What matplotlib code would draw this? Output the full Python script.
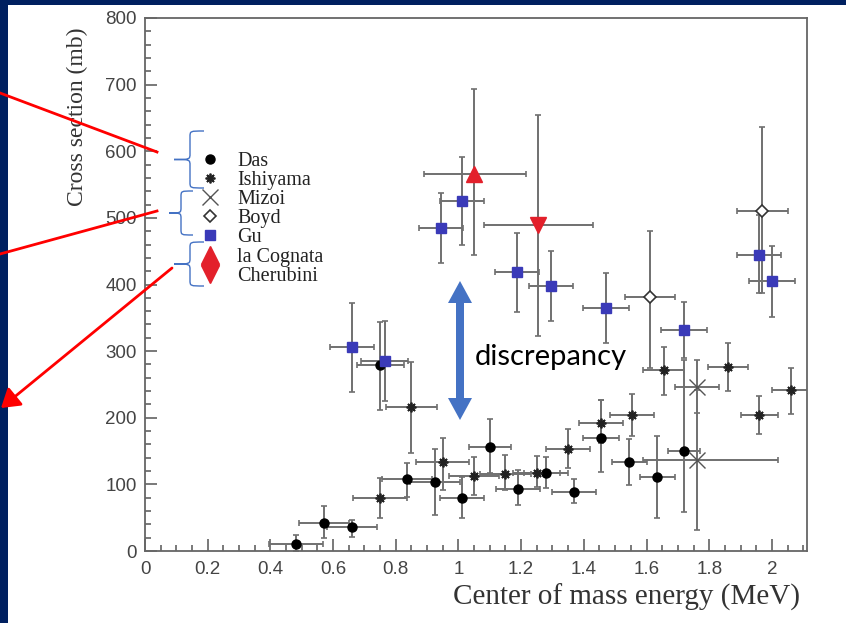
import matplotlib
matplotlib.use('Agg')
import matplotlib.pyplot as plt
import numpy as np
from matplotlib.lines import Line2D
from matplotlib.path import Path
from matplotlib.patches import PathPatch, Rectangle, Polygon, FancyArrowPatch
from matplotlib.ticker import MultipleLocator, FixedLocator

# ---------------- data ----------------
das_e = [0.482, 0.571, 0.66, 0.75, 0.835, 0.925, 1.01, 1.10, 1.19, 1.28, 1.37, 1.455, 1.545, 1.635, 1.72]
das_s = [10, 42, 36, 279, 108, 103, 80, 156, 93, 117, 89, 169, 134, 111, 150]
das_ex = [0.086, 0.08, 0.08, 0.075, 0.08, 0.08, 0.07, 0.067, 0.07, 0.07, 0.07, 0.058, 0.055, 0.055, 0.05]
das_lo = [0, 19, 21, 211, 81, 54, 50, 117, 69, 94, 72, 118, 99, 49, 58]
das_hi = [24, 67, 47, 343, 132, 153, 111, 198, 121, 141, 108, 226, 168, 172, 286]

ish_e = [0.75, 0.85, 0.95, 1.05, 1.15, 1.25, 1.35, 1.455, 1.555, 1.655, 1.86, 1.96, 2.06]
ish_s = [80, 216, 133, 112, 115, 117, 153, 192, 204, 271, 276, 204, 241]
ish_ex = [0.085, 0.08, 0.085, 0.08, 0.08, 0.075, 0.07, 0.07, 0.07, 0.065, 0.065, 0.06, 0.06]
ish_lo = [50, 147, 92, 84, 91, 96, 124, 162, 173, 234, 240, 175, 205]
ish_hi = [110, 283, 170, 141, 144, 142, 183, 226, 235, 306, 312, 232, 274]

miz_e = [1.76, 1.76]
miz_s = [136, 246]
miz_xlo = [1.59, 1.69]
miz_xhi = [2.02, 1.83]
miz_lo = [31, 207]
miz_hi = [241, 286]

boyd_e = [1.61, 1.97]
boyd_s = [381, 511]
boyd_ex = [0.08, 0.08]
boyd_lo = [274, 387]
boyd_hi = [481, 636]

gu_e = [0.66, 0.765, 0.944, 1.01, 1.187, 1.295, 1.47, 1.72, 1.96, 2.0]
gu_s = [306, 285, 485, 525, 419, 397, 364, 332, 445, 405]
gu_ex = [0.07, 0.075, 0.07, 0.07, 0.07, 0.07, 0.073, 0.073, 0.07, 0.073]
gu_lo = [238, 225, 432, 459, 358, 345, 312, 289, 387, 351]
gu_hi = [372, 345, 537, 591, 478, 451, 418, 373, 504, 458]

lac_e = [1.05]
lac_s = [566]
lac_xlo = [0.89]
lac_xhi = [1.215]
lac_lo = [444]
lac_hi = [693]

che_e = [1.254]
che_s = [490]
che_xlo = [1.08]
che_xhi = [1.43]
che_lo = [322]
che_hi = [654]

x_ticks = [0, 0.2, 0.4, 0.6, 0.8, 1.0, 1.2, 1.4, 1.6, 1.8, 2.0]
x_tick_labels = ['0', '0.2', '0.4', '0.6', '0.8', '1', '1.2', '1.4', '1.6', '1.8', '2']
y_ticks = [0, 100, 200, 300, 400, 500, 600, 700, 800]
y_tick_labels = ['0', '100', '200', '300', '400', '500', '600', '700', '800']

legend_labels = ['Das', 'Ishiyama', 'Mizoi', 'Boyd', 'Gu', 'la Cognata', 'Cherubini']

# ---------------- figure ----------------
W, H = 846, 623
NAVY = '#002060'
BLUE_ANN = '#4472C4'
GU_COL = '#3a3ab8'
RED = '#e3202b'
ECOL = '#707070'

fig = plt.figure(figsize=(W / 100, H / 100), dpi=100, facecolor=NAVY)


def fp(x, y):
    return (x / W, 1 - y / H)


fig.patches.append(Rectangle((8 / W, 0), (W - 8) / W, (H - 5) / H, transform=fig.transFigure,
                             facecolor='white', edgecolor='none', zorder=-5))

ax = fig.add_axes([145 / W, 1 - 551 / H, (807 - 145) / W, (551 - 18) / H])
ax.set_zorder(1)
ax.patch.set_alpha(0)
ax.set_xlim(0, 2.112)
ax.set_ylim(0, 800)


def ebar(e, s, xl, xh, lo, hi):
    e = np.asarray(e, float); s = np.asarray(s, float)
    ax.errorbar(e, s, xerr=[np.asarray(xl, float), np.asarray(xh, float)],
                yerr=[s - np.asarray(lo, float), np.asarray(hi, float) - s],
                fmt='none', ecolor=ECOL, elinewidth=1.4, capsize=2, capthick=1.2, zorder=2)


ebar(das_e, das_s, das_ex, das_ex, das_lo, das_hi)
ebar(ish_e, ish_s, ish_ex, ish_ex, ish_lo, ish_hi)
ebar(miz_e, miz_s, np.subtract(miz_e, miz_xlo), np.subtract(miz_xhi, miz_e), miz_lo, miz_hi)
ebar(boyd_e, boyd_s, boyd_ex, boyd_ex, boyd_lo, boyd_hi)
ebar(gu_e, gu_s, gu_ex, gu_ex, gu_lo, gu_hi)
ebar(lac_e, lac_s, np.subtract(lac_e, lac_xlo), np.subtract(lac_xhi, lac_e), lac_lo, lac_hi)
ebar(che_e, che_s, np.subtract(che_e, che_xlo), np.subtract(che_xhi, che_e), che_lo, che_hi)

sty = {
    'Das': dict(marker='o', color='black', ms=6.5, mec='black'),
    'Ishiyama': dict(marker=(8, 2, 0), color='#222222', ms=7, mew=1.3),
    'Mizoi': dict(marker='x', color='#555555', ms=12, mew=1.0),
    'Boyd': dict(marker='D', color='white', ms=6.5, mec='#333333', mew=1.2),
    'Gu': dict(marker='s', color=GU_COL, ms=7, mec=GU_COL),
    'la Cognata': dict(marker='^', color=RED, ms=11, mec=RED),
    'Cherubini': dict(marker='v', color=RED, ms=11, mec=RED),
}
series = [('Das', das_e, das_s), ('Ishiyama', ish_e, ish_s), ('Mizoi', miz_e, miz_s),
          ('Boyd', boyd_e, boyd_s), ('Gu', gu_e, gu_s), ('la Cognata', lac_e, lac_s),
          ('Cherubini', che_e, che_s)]
for name, e, s in series:
    ax.plot(e, s, ls='none', zorder=3, **sty[name])

# axes styling
for sp in ax.spines.values():
    sp.set_color('#666666')
    sp.set_linewidth(1.3)
ax.xaxis.set_major_locator(FixedLocator(x_ticks))
ax.set_xticklabels(x_tick_labels)
ax.yaxis.set_major_locator(FixedLocator(y_ticks))
ax.set_yticklabels(y_tick_labels)
ax.xaxis.set_minor_locator(MultipleLocator(0.05))
ax.yaxis.set_minor_locator(MultipleLocator(20))
ax.tick_params(which='both', direction='in', top=False, right=False, color='#555555',
               labelcolor='#444444', width=1.1)
ax.tick_params(which='major', length=8.5, labelsize=13.5)
ax.tick_params(axis='x', which='major', pad=7)
ax.tick_params(axis='y', which='major', pad=6)
ax.tick_params(which='minor', length=4.3)
for lab in ax.get_xticklabels() + ax.get_yticklabels():
    lab.set_fontfamily('Liberation Sans')

fig.text(77 / W, 1 - 28 / H, 'Cross section (mb)', rotation=90, va='top', ha='center',
         fontfamily='Liberation Serif', fontsize=17, color='#333333')
fig.text(800 / W, 1 - 597 / H, 'Center of mass energy (MeV)', va='center', ha='right',
         fontfamily='Liberation Serif', fontsize=21, color='#333333')

# legend
handles = [Line2D([], [], ls='none', **sty[n]) for n in legend_labels]
handles[5] = Line2D([], [], ls='none', marker='^', color=RED, ms=13)
handles[6] = Line2D([], [], ls='none', marker='v', color=RED, ms=13)
leg = ax.legend(handles, legend_labels, loc='upper left', bbox_to_anchor=fp(201, 152),
                bbox_transform=fig.transFigure, frameon=False,
                prop={'family': 'Liberation Serif', 'size': 14.5}, handlelength=0.9,
                handletextpad=0.9, labelspacing=0.0, borderpad=0, borderaxespad=0)
for t in leg.get_texts():
    t.set_color('#222222')

# braces


def brace(xr, yt, yb, xm, xtip, r=6):
    ym = (yt + yb) / 2
    pts = [(xr, yt), (xm, yt), (xm, yt), (xm, yt + r),
           (xm, ym - r), (xm, ym), (xm, ym), (xtip, ym),
           (xm, ym), (xm, ym), (xm, ym + r),
           (xm, yb - r), (xm, yb), (xm, yb), (xr, yb)]
    codes = [Path.MOVETO, Path.CURVE4, Path.CURVE4, Path.CURVE4,
             Path.LINETO, Path.CURVE4, Path.CURVE4, Path.CURVE4,
             Path.CURVE4, Path.CURVE4, Path.CURVE4,
             Path.LINETO, Path.CURVE4, Path.CURVE4, Path.CURVE4]
    verts = [fp(x, y) for x, y in pts]
    fig.patches.append(PathPatch(Path(verts, codes), transform=fig.transFigure,
                                 facecolor='none', edgecolor=BLUE_ANN, lw=1.0, zorder=5))


brace(204, 131, 188, 190, 174)
brace(193, 191, 235, 181, 169)
brace(204, 242, 286, 190, 174)

# red lines / arrow
fig.add_artist(Line2D([0, 157 / W], [1 - 93 / H, 1 - 152 / H], transform=fig.transFigure,
                      color='#ff0000', lw=2.0, zorder=6))
fig.add_artist(Line2D([0, 157 / W], [1 - 254 / H, 1 - 211 / H], transform=fig.transFigure,
                      color='#ff0000', lw=2.0, zorder=6))
fig.add_artist(FancyArrowPatch(fp(172, 268), fp(1, 408), transform=fig.transFigure,
                               arrowstyle='-|>,head_length=0.55,head_width=0.35',
                               mutation_scale=20, color='#ff0000', lw=2.0,
                               shrinkA=0, shrinkB=0, zorder=6))

# blue double arrow
cx, top, bot, hw, sw, hl = 460, 281, 420, 12, 4, 22
poly = [(cx, top), (cx + hw, top + hl), (cx + sw, top + hl), (cx + sw, bot - hl), (cx + hw, bot - hl),
        (cx, bot), (cx - hw, bot - hl), (cx - sw, bot - hl), (cx - sw, top + hl), (cx - hw, top + hl)]
fig.patches.append(Polygon([fp(x, y) for x, y in poly], closed=True, transform=fig.transFigure,
                           facecolor=BLUE_ANN, edgecolor='none', zorder=5))
fig.text(475 / W, 1 - 357 / H, 'discrepancy', fontfamily='Lato', fontsize=21,
         va='center', ha='left', color='black')

fig.savefig('out.png', dpi=100, facecolor=NAVY)
